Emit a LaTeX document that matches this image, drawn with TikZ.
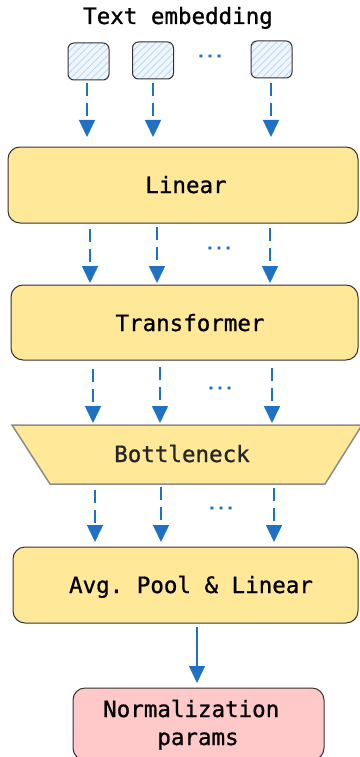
\documentclass[tikz,border=0pt]{standalone}
\usepackage{fontspec}
\setmonofont[FakeBold=0.9]{DejaVu Sans Mono}
\usetikzlibrary{arrows.meta,patterns.meta}
\definecolor{boxyellow}{HTML}{FFE999}
\definecolor{boxpink}{HTML}{FFC9C9}
\definecolor{boxline}{HTML}{333333}
\definecolor{neckline}{HTML}{8C8C8C}
\definecolor{arrowblue}{HTML}{1F71C4}
\definecolor{hatchbg}{HTML}{EEF5FC}
\definecolor{hatchline}{HTML}{B5D4F0}
\tikzset{
  txt/.style={font=\fontsize{22.5}{28}\selectfont\ttfamily, text=black, inner sep=0pt, anchor=base},
  bigbox/.style={draw=boxline, line width=1pt, fill=boxyellow, rounded corners=12pt, inner sep=0pt},
  tokbox/.style={draw=boxline, line width=1pt, rounded corners=6pt, minimum width=41pt, minimum height=37pt,
    inner sep=0pt, preaction={fill=hatchbg},
    pattern={Lines[angle=45,distance=5pt,line width=0.7pt]}, pattern color=hatchline},
  dasharrow/.style={draw=arrowblue, line width=1.5pt, dash pattern=on 13pt off 7pt,
    -{Triangle[width=16pt,length=17pt]}, arrowblue},
  solidarrow/.style={draw=arrowblue, line width=1.2pt, -{Triangle[width=16pt,length=17pt]}},
  dots/.style={font=\fontsize{15}{15}\selectfont\ttfamily\bfseries, text=arrowblue, inner sep=0pt}
}
\begin{document}
\begin{tikzpicture}[x=1pt,y=-1pt]
\useasboundingbox (0,0) rectangle (359,757);
% title
\node[txt] (title) at (178,24) {Text embedding};
% token boxes
\node[tokbox] (t1) at (88.5,61.5) {};
\node[tokbox] (t2) at (153,60.5) {};
\node[tokbox] (t3) at (271.5,59.5) {};
\node[dots] (d0) at (210,56) {...};
% boxes
\node[bigbox, minimum width=350pt, minimum height=76pt] (lin) at (183,185) {};
\node[txt] (lintxt) at (186,193) {Linear};
\node[bigbox, minimum width=347pt, minimum height=75pt] (tr) at (184.5,322.5) {};
\node[txt] (trtxt) at (190,331) {Transformer};
\draw[fill=boxyellow, draw=neckline, line width=1.5pt] (12,425) -- (362,425) -- (325,484) -- (50,484) -- cycle;
\node[txt, text=black!85] (bntxt) at (182,462) {Bottleneck};
\node[bigbox, minimum width=345pt, minimum height=76pt] (avg) at (185.5,585) {};
\node[txt] (avgtxt) at (191,593) {Avg. Pool \& Linear};
\node[draw=boxline, line width=1pt, fill=boxpink, rounded corners=12pt, minimum width=251pt, minimum height=72pt, inner sep=0pt] (norm) at (198.5,724) {};
\node[txt] (n1) at (198,717) {Normalization\hphantom{x}};
\node[txt] (n2) at (198,745) {params};
% arrows
\foreach \n/\x/\ys/\ye in {a/87/83/137, b/153/83/137, c/271/83/137,
                           d/90/229/283, e/157/227/283, f/270/228/283,
                           g/93/369/423, h/160/367/423, i/272/368/423,
                           j/95/490/542, k/161/487/542, l/274/488/542}{
  \coordinate (\n s) at (\x,\ys);
  \coordinate (\n e) at (\x,\ye);
  \draw[dasharrow] (\n s) -- (\n e);
}
\node[dots] (d1) at (219,248) {...};
\node[dots] (d2) at (220,388) {...};
\node[dots] (d3) at (221,508) {...};
% final arrow
\coordinate (fs) at (197,627);
\coordinate (fe) at (197,683);
\draw[solidarrow] (fs) -- (fe);
\end{tikzpicture}
\end{document}
